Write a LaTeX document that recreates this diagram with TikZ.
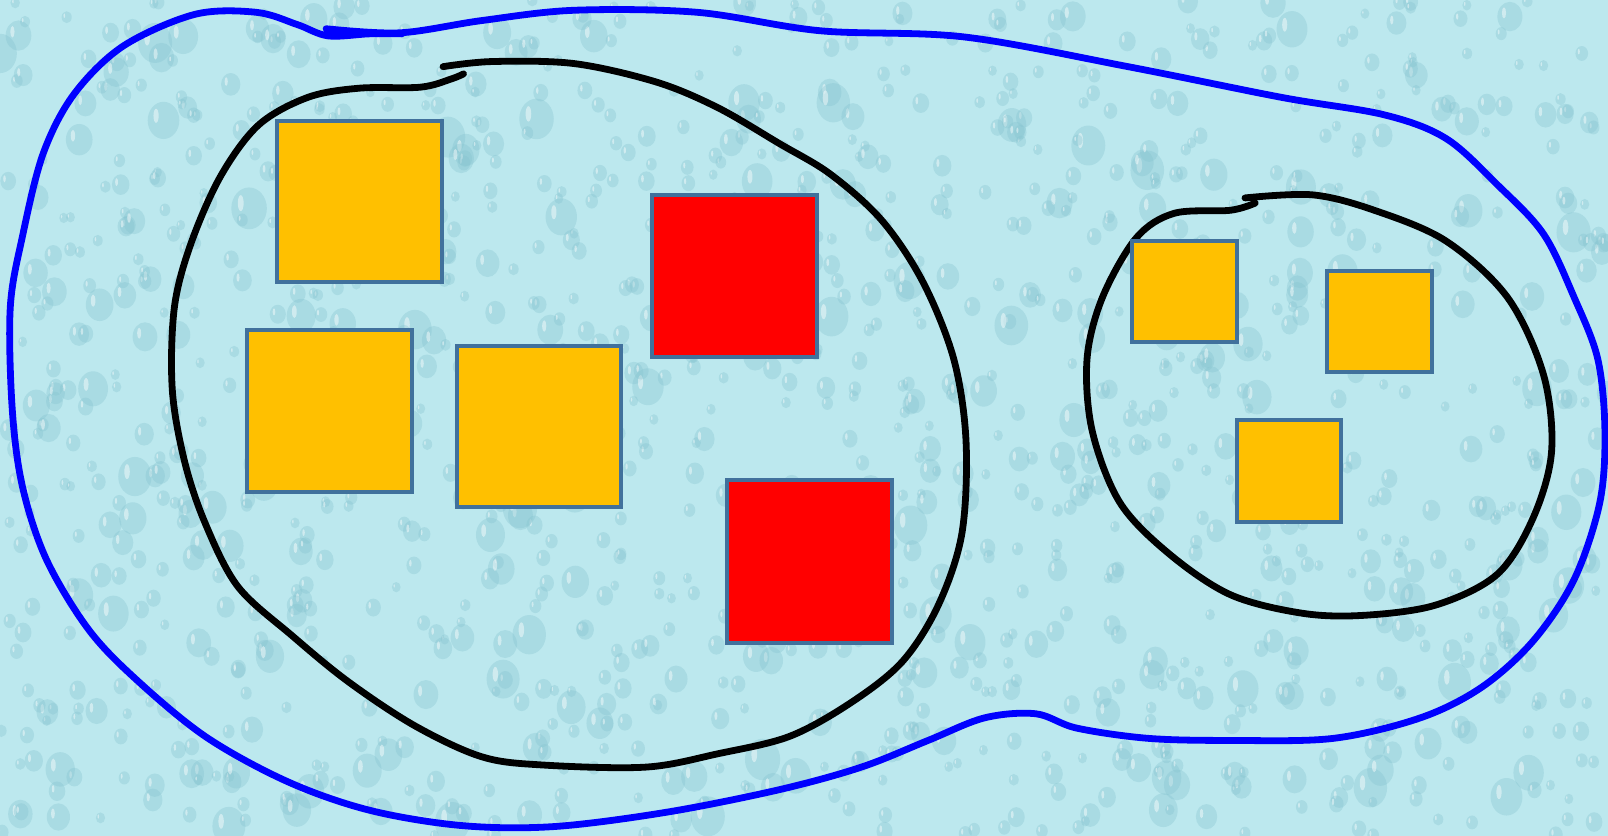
\documentclass[tikz,border=0pt]{standalone}
\begin{document}
\begin{tikzpicture}[x=0.51276pt,y=-0.51276pt,
  bgfill/.style={fill=bgcyan},
  drop/.style={fill=dropcyan,opacity=0.35},
  shine/.style={fill=white,opacity=0.45},
  bluestroke/.style={draw=strokeblue,line width=3.4pt,line cap=round,line join=round},
  blackstroke/.style={draw=black,line width=3.4pt,line cap=round,line join=round},
  sq/.style={draw=sqborder,line width=2pt},
  orangesq/.style={sq,fill=sqorange},
  redsq/.style={sq,fill=sqred}]
\definecolor{bgcyan}{HTML}{BCE8EE}
\definecolor{dropcyan}{HTML}{86C4D0}
\definecolor{strokeblue}{HTML}{0000FF}
\definecolor{sqborder}{HTML}{41719C}
\definecolor{sqorange}{HTML}{FFC000}
\definecolor{sqred}{HTML}{FF0000}
\useasboundingbox (0,0) rectangle (1568,815);
\fill[bgfill] (0,0) rectangle (1568,815);
% water-drop texture
\begin{scope}
\clip (0,0) rectangle (1568,815);
\pgfmathsetseed{11}
\foreach \i in {1,...,1300}{
  \pgfmathsetmacro{\px}{rnd*1568}
  \pgfmathsetmacro{\py}{rnd*815}
  \pgfmathsetmacro{\rr}{5+rnd*rnd*16}
  \fill[drop] (\px,\py) ellipse ({\rr*0.85} and \rr);
  \fill[shine] (\px-0.4*\rr,\py-0.25*\rr) ellipse ({\rr*0.14} and {\rr*0.38});
}
\end{scope}
% outlines
\draw[bluestroke] plot[smooth,tension=0.55] coordinates {
 (318,28) (390,32) (470,20) (560,10) (680,12) (800,30) (940,36) (1100,65)
 (1250,95) (1350,112) (1410,135) (1460,180) (1505,228) (1535,290) (1558,350)
 (1565,420) (1560,490) (1535,565) (1495,625) (1445,670) (1385,700) (1300,720)
 (1200,722) (1120,720) (1050,710) (1010,696) (960,700) (905,722) (840,748)
 (760,770) (650,792) (540,806) (450,805) (360,790) (280,762) (200,718)
 (130,660) (85,612) (45,545) (22,475) (12,400) (10,300) (22,230) (42,150)
 (72,92) (120,45) (190,14) (250,12) (290,24) (320,35) (360,33) (392,33)};
\draw[blackstroke] plot[smooth,tension=0.55] coordinates {
 (432,65) (480,60) (560,62) (640,80) (700,105) (760,140) (810,170) (860,215)
 (900,275) (930,350) (942,430) (938,520) (915,590) (880,645) (830,685)
 (770,718) (700,735) (630,748) (530,746) (470,738) (405,708) (340,665)
 (285,620) (232,572) (200,510) (180,450) (168,380) (170,300) (186,238)
 (215,172) (252,122) (300,95) (350,86) (410,85) (440,77) (452,72)};
\draw[blackstroke] plot[smooth,tension=0.55] coordinates {
 (1214,193) (1280,190) (1340,205) (1410,235) (1470,290) (1505,365)
 (1513,440) (1495,505) (1460,560) (1400,590) (1330,600) (1270,598)
 (1200,580) (1140,540) (1092,490) (1065,420) (1060,350) (1075,290)
 (1108,232) (1145,208) (1200,205) (1224,198)};
% squares
\draw[orangesq] (270,118) rectangle (431,275);
\draw[orangesq] (241,322) rectangle (402,480);
\draw[orangesq] (446,337) rectangle (606,494);
\draw[redsq] (636,190) rectangle (797,348);
\draw[redsq] (709,468) rectangle (870,627);
\draw[orangesq] (1104,235) rectangle (1206,333);
\draw[orangesq] (1294,264) rectangle (1396,363);
\draw[orangesq] (1206,410) rectangle (1308,509);
\end{tikzpicture}
\end{document}
